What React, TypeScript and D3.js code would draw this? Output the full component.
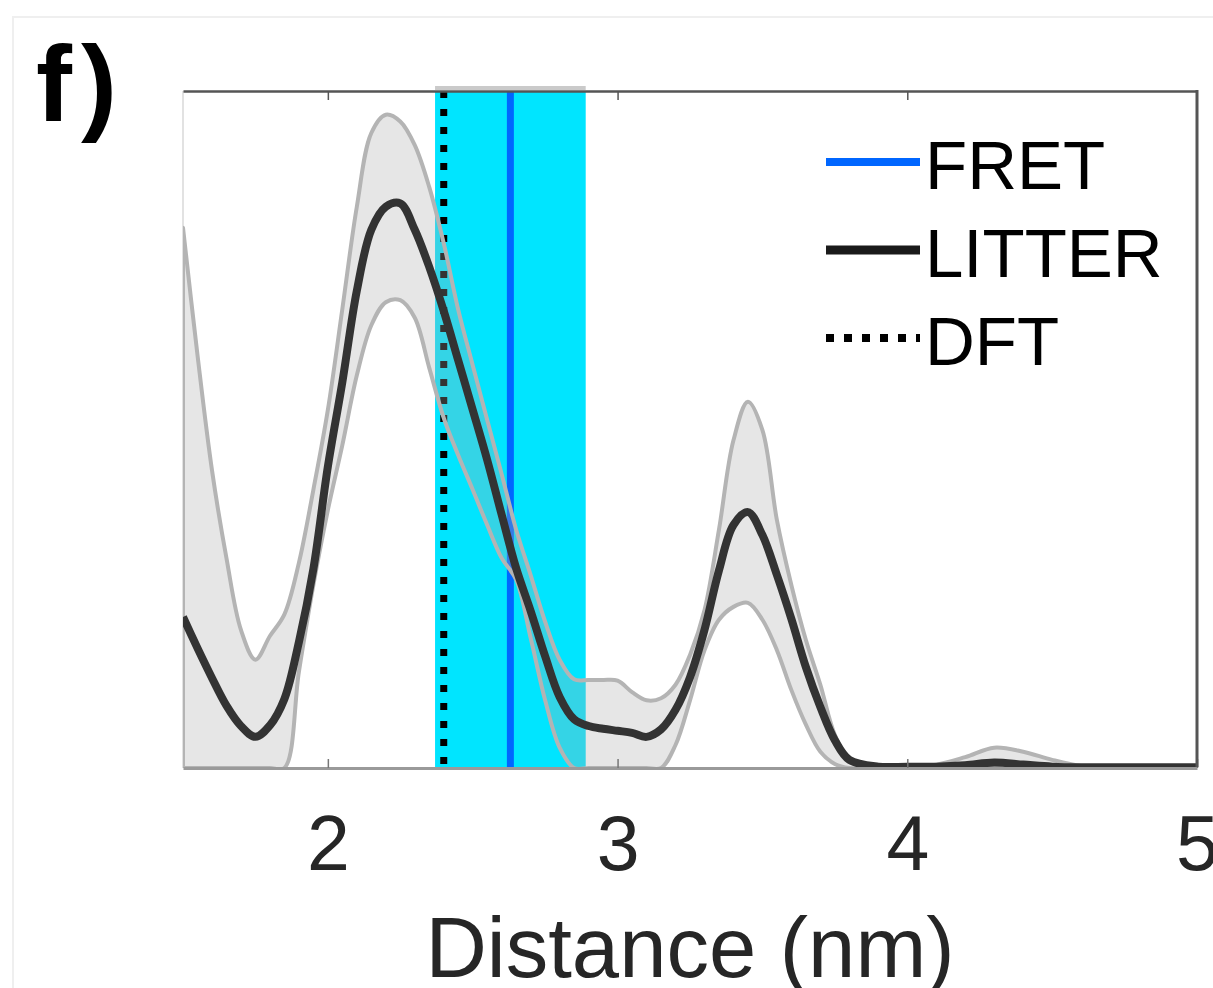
import React, { useEffect, useRef } from 'react';
import * as d3 from 'd3';

// distance grid (nm) and LITTER distribution (mean with upper/lower bounds), arbitrary units
const distance = [
    1.50, 1.55, 1.60, 1.65, 1.70, 1.75, 1.80, 1.85, 1.90, 1.95,
    2.00, 2.05, 2.10, 2.15, 2.20, 2.25, 2.30, 2.35, 2.40, 2.45,
    2.50, 2.55, 2.60, 2.65, 2.70, 2.75, 2.80, 2.85, 2.90, 2.95,
    3.00, 3.05, 3.10, 3.15, 3.20, 3.25, 3.30, 3.35, 3.40, 3.45,
    3.50, 3.55, 3.60, 3.65, 3.70, 3.75, 3.80, 3.90, 4.00, 4.10,
    4.20, 4.30, 4.40, 4.50, 4.60, 4.70, 4.80, 4.90, 5.00,
];

const litterMean = [
    0.223, 0.177, 0.133, 0.092, 0.062, 0.046, 0.063, 0.102, 0.186, 0.294,
    0.445, 0.570, 0.705, 0.795, 0.829, 0.834, 0.795, 0.740, 0.675, 0.602,
    0.529, 0.455, 0.374, 0.295, 0.232, 0.165, 0.105, 0.072, 0.062, 0.058,
    0.055, 0.052, 0.046, 0.057, 0.086, 0.134, 0.204, 0.292, 0.359, 0.378,
    0.344, 0.285, 0.220, 0.149, 0.090, 0.041, 0.012, 0.002, 0.002, 0.002,
    0.004, 0.008, 0.005, 0.002, 0.001, 0.001, 0.001, 0.001, 0.001,
];

const litterUpper = [
    0.798, 0.610, 0.440, 0.310, 0.204, 0.160, 0.195, 0.227, 0.303, 0.411,
    0.529, 0.678, 0.829, 0.938, 0.965, 0.955, 0.920, 0.858, 0.775, 0.677,
    0.595, 0.514, 0.434, 0.352, 0.285, 0.216, 0.160, 0.131, 0.130, 0.130,
    0.129, 0.112, 0.100, 0.103, 0.123, 0.167, 0.233, 0.352, 0.484, 0.541,
    0.499, 0.366, 0.270, 0.189, 0.123, 0.049, 0.015, 0.003, 0.003, 0.005,
    0.016, 0.030, 0.024, 0.012, 0.003, 0.001, 0.001, 0.001, 0.001,
];

const litterLower = [
    0, 0, 0, 0, 0, 0, 0, 0, 0.142, 0.270,
    0.381, 0.477, 0.580, 0.654, 0.688, 0.691, 0.665, 0.591, 0.517, 0.462,
    0.411, 0.359, 0.310, 0.278, 0.192, 0.100, 0.030, 0, 0, 0,
    0, 0, 0, 0, 0.034, 0.100, 0.174, 0.219, 0.238, 0.244,
    0.219, 0.174, 0.115, 0.064, 0.024, 0.006, 0, 0, 0, 0,
    0, 0, 0, 0, 0, 0, 0, 0, 0,
];

const fretRange = [2.37, 2.89];
const fretValue = 2.63;
const dftValue = 2.40;
const xTicks = [2, 3, 4, 5];
const legendLabels = ['FRET', 'LITTER', 'DFT'];

const width = 1213;
const height = 988;
const margin = { top: 91, right: 16, bottom: 220, left: 183 };
const font = '"Liberation Sans", Arial, Helvetica, sans-serif';

const legendStyle = {
    FRET: { stroke: '#0066ff', width: 8, dash: null },
    LITTER: { stroke: '#1a1a1a', width: 9, dash: null },
    DFT: { stroke: '#000', width: 8, dash: '8,10' },
};

const App = () => {
    const svgRef = useRef(null);

    useEffect(() => {
        const svg = d3.select(svgRef.current);
        svg.selectAll('*').remove();

        const x = d3.scaleLinear().domain([1.5, 5]).range([margin.left, width - margin.right]);
        const y = d3.scaleLinear().domain([0, 1]).range([height - margin.bottom, margin.top]);
        const rows = distance.map((d, i) => ({ d, m: litterMean[i], u: litterUpper[i], l: litterLower[i] }));

        // faint figure frame
        svg.append('rect')
            .attr('x', 13).attr('y', 17)
            .attr('width', 1300).attr('height', 1100)
            .attr('fill', 'none').attr('stroke', '#efefef').attr('stroke-width', 2);

        svg.append('clipPath').attr('id', 'plot-clip')
            .append('rect')
            .attr('x', x(1.5)).attr('y', y(1))
            .attr('width', x(5) - x(1.5)).attr('height', y(0) - y(1));

        // left axis (very light)
        svg.append('line')
            .attr('x1', x(1.5)).attr('x2', x(1.5))
            .attr('y1', y(1)).attr('y2', y(0))
            .attr('stroke', '#e2e2e2').attr('stroke-width', 2);

        const plot = svg.append('g').attr('clip-path', 'url(#plot-clip)');

        // FRET range patch
        plot.append('rect')
            .attr('x', x(fretRange[0]))
            .attr('y', y(1))
            .attr('width', x(fretRange[1]) - x(fretRange[0]))
            .attr('height', y(0) - y(1))
            .attr('fill', '#00e5ff');

        plot.append('line')
            .attr('x1', x(fretValue)).attr('x2', x(fretValue))
            .attr('y1', y(1)).attr('y2', y(0))
            .attr('stroke', '#0066ff').attr('stroke-width', 7);

        plot.append('line')
            .attr('x1', x(dftValue)).attr('x2', x(dftValue))
            .attr('y1', y(1)).attr('y2', y(0))
            .attr('stroke', '#000').attr('stroke-width', 7)
            .attr('stroke-dasharray', '7,11');

        const curve = d3.curveCatmullRom.alpha(0.5);

        const area = d3.area()
            .x(r => x(r.d))
            .y0(r => y(Math.max(0, r.l)))
            .y1(r => y(r.u))
            .curve(curve);

        plot.append('path')
            .datum(rows)
            .attr('d', area)
            .attr('fill', '#acacac')
            .attr('fill-opacity', 0.3)
            .attr('stroke', '#b4b4b4')
            .attr('stroke-width', 4)
            .attr('stroke-linejoin', 'round');

        const meanLine = d3.line()
            .x(r => x(r.d))
            .y(r => y(r.m))
            .curve(curve);

        plot.append('path')
            .datum(rows)
            .attr('d', meanLine)
            .attr('fill', 'none')
            .attr('stroke', '#333')
            .attr('stroke-width', 8)
            .attr('stroke-linejoin', 'round');

        // light edge above the patch
        svg.append('line')
            .attr('x1', x(fretRange[0])).attr('x2', x(fretRange[1]))
            .attr('y1', y(1) - 3).attr('y2', y(1) - 3)
            .attr('stroke', '#cacaca').attr('stroke-width', 4);

        // axes
        const bottom = svg.append('g')
            .attr('transform', `translate(0,${y(0)})`)
            .call(d3.axisBottom(x).tickValues(xTicks).tickSize(-9).tickSizeOuter(0).tickPadding(47).tickFormat(d3.format('d')));
        bottom.select('.domain').attr('stroke', '#9a9a9a').attr('stroke-width', 3);
        bottom.selectAll('.tick line').attr('stroke', '#777').attr('stroke-width', 1.5);
        bottom.selectAll('.tick text')
            .attr('fill', '#262626')
            .style('font-family', font)
            .style('font-size', '77px');

        const top = svg.append('g')
            .attr('transform', `translate(0,${y(1)})`)
            .call(d3.axisTop(x).tickValues(xTicks.filter(t => t < 5)).tickSize(-9).tickSizeOuter(0).tickFormat(() => ''));
        top.select('.domain').attr('stroke', '#555').attr('stroke-width', 2.5);
        top.selectAll('.tick line').attr('stroke', '#555').attr('stroke-width', 1.5);

        svg.append('line')
            .attr('x1', x(5)).attr('x2', x(5))
            .attr('y1', y(1) - 1).attr('y2', y(0) - 1)
            .attr('stroke', '#555').attr('stroke-width', 3);

        svg.append('text')
            .attr('x', (x(1.5) + x(5)) / 2)
            .attr('y', 977)
            .attr('text-anchor', 'middle')
            .attr('fill', '#262626')
            .style('font-family', font)
            .style('font-size', '85px')
            .text('Distance (nm)');

        svg.append('text')
            .attr('x', 36)
            .attr('y', 121)
            .attr('fill', '#000')
            .style('font-family', font)
            .style('font-size', '108px')
            .style('font-weight', 'bold')
            .style('letter-spacing', '9px')
            .text('f)');

        // legend
        const legend = svg.append('g');
        legendLabels.forEach((label, i) => {
            const cy = 162 + i * 88;
            const s = legendStyle[label];
            legend.append('line')
                .attr('x1', 826).attr('x2', 920)
                .attr('y1', cy).attr('y2', cy)
                .attr('stroke', s.stroke)
                .attr('stroke-width', s.width)
                .attr('stroke-dasharray', s.dash);
            legend.append('text')
                .attr('x', 925)
                .attr('y', cy + 27)
                .attr('fill', '#000')
                .style('font-family', font)
                .style('font-size', '69px')
                .text(label);
        });
    }, []);

    return (
        <svg
            ref={svgRef}
            width={width}
            height={height}
            style={{ position: 'absolute', left: 0, top: 0, background: '#fff' }}
        />
    );
};

export default App;
